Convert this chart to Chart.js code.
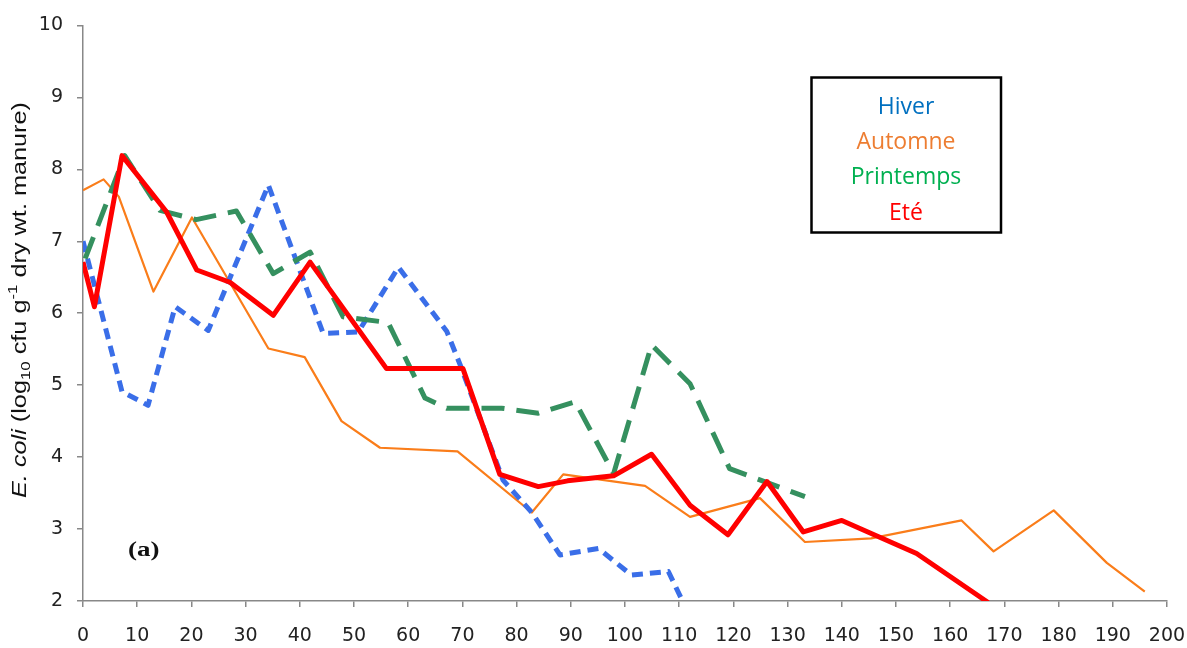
<!DOCTYPE html>
<html>
<head>
<meta charset="utf-8">
<script src="https://cdn.jsdelivr.net/npm/chart.js@4"></script>
<style>
  html, body { margin: 0; padding: 0; background: #fff; }
  #wrap { width: 1187px; height: 648px; }
</style>
</head>
<body>
<div id="wrap"><canvas id="c" width="1187" height="648"></canvas></div>
<script>
// days (x) and log10 E. coli (y)
const hiverX = [0, 7.2, 12.0, 17.0, 23.1, 34.2, 44.3, 50.8, 58.2, 67.1, 69.5, 77.5, 82.8, 88.0, 95.1, 101.2, 108.0, 110.8];
const hiverY = [7.0, 4.91, 4.72, 6.09, 5.76, 7.78, 5.72, 5.74, 6.64, 5.75, 5.3, 3.68, 3.23, 2.64, 2.73, 2.36, 2.41, 1.97];

const automneX = [0, 3.8, 6.6, 13.0, 20.1, 34.2, 40.9, 47.7, 54.8, 69.1, 82.8, 88.6, 103.7, 112.0, 124.9, 133.2, 145.4, 162.1, 168.0, 179.1, 188.9, 195.9];
const automneY = [7.71, 7.86, 7.62, 6.30, 7.33, 5.51, 5.39, 4.5, 4.13, 4.08, 3.23, 3.76, 3.60, 3.17, 3.43, 2.82, 2.87, 3.12, 2.69, 3.26, 2.53, 2.13];

const printempsX = [0.4, 7.7, 14.2, 20.9, 28.3, 35.1, 41.9, 48.0, 56.3, 63.1, 67.1, 77.2, 84.0, 90.8, 97.9, 104.9, 112.0, 119.3, 133.2];
const printempsY = [6.76, 8.19, 7.43, 7.30, 7.42, 6.55, 6.85, 5.95, 5.87, 4.82, 4.68, 4.68, 4.61, 4.77, 3.77, 5.56, 5.02, 3.84, 3.45];

const eteX = [0, 2.1, 7.2, 15.4, 21.0, 27.1, 35.1, 41.9, 56.0, 70.1, 76.9, 84.0, 89.4, 97.9, 104.9, 112.0, 119.0, 126.2, 132.9, 140.0, 153.8, 167.0];
const eteY = [6.71, 6.09, 8.19, 7.41, 6.60, 6.43, 5.97, 6.71, 5.23, 5.23, 3.76, 3.59, 3.67, 3.74, 4.04, 3.33, 2.92, 3.66, 2.96, 3.12, 2.66, 1.98];

const seasonNames = ["Hiver", "Automne", "Printemps", "Eté"];
const seasonTextColors = ["#0070c0", "#ed7d31", "#00b050", "#ff0000"];

function pts(xs, ys) {
  return xs.map((x, i) => ({x: x, y: ys[i]}));
}

const tickFont = {family: "'DejaVu Sans', sans-serif", size: 19};

// legend box, "(a)" tag and the mixed-style y title
const annotations = {
  id: 'annotations',
  afterDraw(chart) {
    const ctx = chart.ctx;
    ctx.save();

    // legend
    ctx.strokeStyle = '#000';
    ctx.lineWidth = 2.5;
    ctx.strokeRect(811.5, 77.5, 189.5, 155);
    ctx.font = "23px 'Open Sans', sans-serif";
    ctx.textAlign = 'center';
    ctx.textBaseline = 'alphabetic';
    for (let i = 0; i < seasonNames.length; i++) {
      ctx.fillStyle = seasonTextColors[i];
      ctx.fillText(seasonNames[i], 906, 114 + i * 35.2);
    }

    // panel tag (the source figure is stretched sideways)
    ctx.save();
    ctx.translate(128, 556);
    ctx.scale(1.35, 1);
    ctx.fillStyle = '#111';
    ctx.font = "bold 20px 'Liberation Serif', serif";
    ctx.textAlign = 'left';
    ctx.fillText('(a)', 0, 0);
    ctx.restore();

    // y axis title
    const fam = "'Liberation Sans', Arial, sans-serif";
    const parts = [
      {t: 'E.', f: 'italic 19.5px ' + fam, dy: 0},
      {t: ' coli', f: 'italic 19.5px ' + fam, dy: 0},
      {t: ' (log', f: '19.5px ' + fam, dy: 0},
      {t: '10', f: '13px ' + fam, dy: 5},
      {t: ' cfu g', f: '19.5px ' + fam, dy: 0},
      {t: '-1', f: '13px ' + fam, dy: -8},
      {t: ' dry wt. manure)', f: '19.5px ' + fam, dy: 0}
    ];
    ctx.textAlign = 'left';
    let total = 0;
    parts.forEach(p => { ctx.font = p.f; p.w = ctx.measureText(p.t).width; total += p.w; });
    const stretch = 396 / total;
    ctx.translate(21, 300);
    ctx.rotate(-Math.PI / 2);
    ctx.scale(stretch, 1);
    ctx.fillStyle = '#111';
    ctx.textBaseline = 'middle';
    let x = -total / 2;
    parts.forEach(p => {
      ctx.font = p.f;
      ctx.fillText(p.t, x, p.dy);
      x += p.w;
    });
    ctx.restore();
  }
};

new Chart(document.getElementById('c'), {
  type: 'line',
  data: {
    datasets: [
      {
        label: seasonNames[3],
        data: pts(eteX, eteY),
        borderColor: '#ff0000',
        borderWidth: 5,
        order: 0
      },
      {
        label: seasonNames[2],
        data: pts(printempsX, printempsY),
        borderColor: '#35905f',
        borderWidth: 5,
        borderDash: [23, 12],
        order: 1
      },
      {
        label: seasonNames[0],
        data: pts(hiverX, hiverY),
        borderColor: '#3a6ee8',
        borderWidth: 5,
        borderDash: [11, 7],
        order: 2
      },
      {
        label: seasonNames[1],
        data: pts(automneX, automneY),
        borderColor: '#fa7d1a',
        borderWidth: 2.2,
        order: 3
      }
    ]
  },
  options: {
    responsive: false,
    animation: false,
    layout: {padding: {left: 0, top: 25, right: 20, bottom: 0}},
    elements: {
      point: {radius: 0},
      line: {tension: 0, borderJoinStyle: 'round', borderCapStyle: 'butt', fill: false}
    },
    plugins: {
      legend: {display: false},
      tooltip: {enabled: false}
    },
    scales: {
      x: {
        type: 'linear',
        min: 0,
        max: 200,
        afterFit(scale) {
          scale.height = 47;
          scale.paddingLeft = 0;
          scale.paddingRight = 0;
        },
        ticks: {stepSize: 10, color: '#222', font: tickFont, padding: 18, maxRotation: 0, autoSkip: false},
        grid: {drawOnChartArea: false, drawTicks: true, tickLength: 6, color: '#888', lineWidth: 1.5},
        border: {color: '#888', width: 1.5}
      },
      y: {
        min: 2,
        max: 10,
        afterFit(scale) { scale.width = 83; },
        ticks: {stepSize: 1, color: '#222', font: tickFont, padding: 14},
        grid: {drawOnChartArea: false, drawTicks: true, tickLength: 6, color: '#888', lineWidth: 1.5},
        border: {color: '#888', width: 1.5}
      }
    }
  },
  plugins: [annotations]
});
</script>
</body>
</html>
